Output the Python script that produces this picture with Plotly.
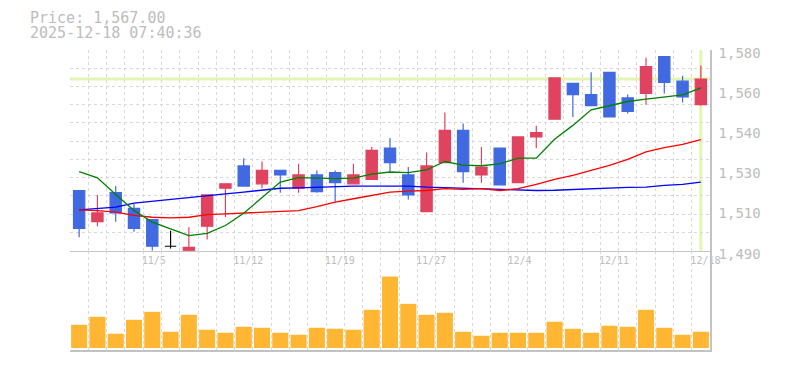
import plotly.graph_objects as go

# ---------------- data ----------------
dates = ["10/29", "10/30", "10/31", "11/4", "11/5", "11/6", "11/7", "11/10", "11/11", "11/12",
         "11/13", "11/14", "11/17", "11/18", "11/19", "11/20", "11/21", "11/25", "11/26", "11/27",
         "11/28", "12/1", "12/2", "12/3", "12/4", "12/5", "12/8", "12/9", "12/10", "12/11",
         "12/12", "12/15", "12/16", "12/17", "12/18"]
labeled_dates = ["11/5", "11/12", "11/19", "11/27", "12/4", "12/11", "12/18"]

opens = [1517, 1503, 1516, 1509, 1504, 1492, 1490, 1501, 1518, 1528,
         1520, 1526, 1518, 1524, 1525, 1520, 1522, 1536, 1524, 1507.5,
         1529.5, 1544, 1524, 1536, 1520.5, 1541, 1549, 1565, 1560, 1570,
         1558.5, 1560.5, 1577, 1566, 1555.5]
highs = [1517, 1515, 1519, 1511, 1504, 1499, 1500.5, 1515, 1520, 1531.5,
         1530, 1526, 1529, 1526, 1526, 1529, 1536.5, 1540.5, 1527.5, 1534,
         1552, 1547, 1536.5, 1536, 1541, 1546, 1567.5, 1565, 1570, 1570,
         1560, 1576.5, 1577, 1568.5, 1573]
lows = [1496, 1501, 1503, 1498.5, 1490, 1491, 1490, 1495, 1505, 1519,
        1518, 1516, 1516, 1516, 1512, 1520, 1522, 1525.5, 1513, 1507.5,
        1529.5, 1520.5, 1520.5, 1519.5, 1520.5, 1536, 1549, 1550, 1555, 1550,
        1551.5, 1555.5, 1560.5, 1556.5, 1555]
closes = [1500, 1507, 1507, 1500, 1492, 1492, 1491.5, 1515, 1520, 1519,
          1526, 1524, 1524, 1516.5, 1520.5, 1524, 1535, 1529.5, 1515, 1528,
          1544, 1525.5, 1527.5, 1519.5, 1541, 1543, 1567.5, 1560, 1555, 1550,
          1552.5, 1572.5, 1565.5, 1559, 1567]

ma_short = [1525.5, 1522.7, 1515.2, 1508, 1502.8, 1499.8, 1496.8, 1497.8, 1501.3, 1506.8,
            1514, 1520.8, 1522.8, 1522.5, 1522.3, 1522.5, 1524.3, 1525.3, 1525, 1526.2,
            1530, 1528.4, 1528.1, 1528.9, 1531.5, 1531.5, 1540, 1546.2, 1553.2, 1555,
            1556.9, 1558, 1559.1, 1559.9, 1563]
ma_mid = [1508.3, 1508, 1507.3, 1505.8, 1505, 1504.7, 1505, 1506.2, 1506.5, 1506.8,
          1507.3, 1507.6, 1508, 1509.8, 1511.8, 1513.3, 1514.8, 1516.3, 1516.7, 1517,
          1517.8, 1517.5, 1517.8, 1517, 1517.8, 1519.7, 1522, 1523.8, 1526, 1528.3,
          1531, 1534.3, 1536.2, 1537.7, 1539.8]
ma_long = [1508.3, 1508.8, 1509.5, 1511.3, 1512.2, 1513.1, 1514, 1514.8, 1515.5, 1516.3,
           1517.3, 1518, 1518.2, 1518.5, 1518.8, 1519, 1519, 1519, 1519, 1518.5,
           1518.2, 1518, 1517.8, 1517.3, 1517, 1517, 1517.1, 1517.5, 1517.6, 1518.2,
           1518.4, 1518.5, 1519.3, 1519.7, 1520.8]

volumes = [23300, 31300, 14300, 28300, 36300, 16300, 33300, 18300, 15300, 21300,
           20300, 15300, 13300, 20300, 19300, 18300, 38300, 71700, 44300, 33300,
           35300, 16300, 12300, 15300, 15300, 15300, 26300, 19300, 15300, 22300,
           21300, 38300, 20300, 13300, 16300]

price_tick_vals = [1580, 1562, 1544, 1526, 1508, 1490]
price_tick_text = ["1,580", "1,560", "1,540", "1,530", "1,510", "1,490"]
price_range = [1490, 1580]
price_grid_divisions = 11
volume_range = [-2000, 97600]

header_price = "Price: 1,567.00"
header_time = "2025-12-18 07:40:36"

# ---------------- styles ----------------
UP = "#e0435f"
DOWN = "#4169e1"
VOL = "#ffb632"
GRID = "#d9d9d9"
AXIS = "#c3c3c3"
TXT = "#bdbdbd"
HILITE = "#e3f5b3"
MONO = "DejaVu Sans Mono"

idx = list(range(len(dates)))
n = len(dates)
doji = [o == c for o, c in zip(opens, closes)]
normal = [not d for d in doji]


def pick(vals, keep):
    return [v if k else None for v, k in zip(vals, keep)]


boundaries = [i - 0.5 for i in idx] + [n - 0.5]
boundary_text = [(dates[i] if (i < n and dates[i] in labeled_dates) else "") for i in range(n + 1)]

fig = go.Figure()

# helper (empty) trace so the label axis is a real subplot
fig.add_trace(go.Scatter(x=[], y=[], xaxis="x", yaxis="y3", showlegend=False, hoverinfo="skip"))

# moving averages
for ma, col in [(ma_long, "#0000ff"), (ma_mid, "#ff0000"), (ma_short, "#008000")]:
    fig.add_trace(go.Scatter(x=idx, y=ma, mode="lines", line=dict(color=col, width=1.3),
                             hoverinfo="skip", showlegend=False, xaxis="x", yaxis="y"))

# candles
fig.add_trace(go.Candlestick(
    x=idx, open=pick(opens, normal), high=pick(highs, normal),
    low=pick(lows, normal), close=pick(closes, normal),
    increasing=dict(line=dict(color=UP, width=1.2), fillcolor=UP),
    decreasing=dict(line=dict(color=DOWN, width=1.2), fillcolor=DOWN),
    whiskerwidth=0, showlegend=False, hoverinfo="skip", xaxis="x", yaxis="y"))
fig.add_trace(go.Candlestick(
    x=idx, open=pick(opens, doji), high=pick(highs, doji),
    low=pick(lows, doji), close=pick(closes, doji),
    increasing=dict(line=dict(color="#000000", width=1.2), fillcolor="#000000"),
    decreasing=dict(line=dict(color="#000000", width=1.2), fillcolor="#000000"),
    whiskerwidth=0, showlegend=False, hoverinfo="skip", xaxis="x", yaxis="y"))

# volume
fig.add_trace(go.Bar(x=idx, y=volumes, marker=dict(color=VOL, line=dict(width=0)),
                     showlegend=False, hoverinfo="skip", xaxis="x2", yaxis="y2"))

# highlight of last price / last day
fig.add_shape(type="line", xref="x domain", x0=0, x1=1, yref="y", y0=closes[-1], y1=closes[-1],
              line=dict(color=HILITE, width=3), layer="below")
fig.add_shape(type="line", xref="x", x0=idx[-1], x1=idx[-1], yref="y domain", y0=0, y1=1,
              line=dict(color=HILITE, width=3), layer="below")

split = 0.331
# the page body has an 8px margin, so the figure is sized/offset to compensate
fig.update_layout(
    width=777, height=362,
    margin=dict(l=62, r=75, t=42, b=20, autoexpand=False),
    paper_bgcolor="white", plot_bgcolor="white",
    showlegend=False, hovermode=False,
    boxgap=0.12, bargap=0.12,
    xaxis=dict(domain=[0, 1], anchor="y", range=[-0.5, n - 0.5],
               tickmode="array", tickvals=boundaries, ticktext=boundary_text,
               ticks="", showgrid=True, gridcolor=GRID, griddash="dot", gridwidth=1,
               showline=True, linecolor=AXIS, linewidth=1.3, zeroline=False,
               ticklabelposition="outside right", ticklabelshift=-2,
               tickfont=dict(family=MONO, size=10, color=TXT),
               rangeslider=dict(visible=False), fixedrange=True, automargin=False),
    xaxis2=dict(domain=[0, 1], anchor="y2", matches="x", range=[-0.5, n - 0.5],
                tickmode="array", tickvals=boundaries, showticklabels=False,
                ticks="", showgrid=True, gridcolor=GRID, griddash="dot", gridwidth=1,
                showline=True, linecolor=AXIS, linewidth=1.5, zeroline=False,
                rangeslider=dict(visible=False), automargin=False),
    yaxis=dict(domain=[split, 1], anchor="x", range=price_range,
               tickmode="linear", tick0=price_range[0],
               dtick=(price_range[1] - price_range[0]) / price_grid_divisions,
               showticklabels=False, ticks="", showgrid=True, gridcolor=GRID,
               griddash="dot", gridwidth=1, zeroline=False, showline=False, automargin=False),
    yaxis3=dict(overlaying="y", anchor="x", side="right", range=price_range,
                tickmode="array", tickvals=price_tick_vals, ticktext=price_tick_text,
                showgrid=False, zeroline=False, showline=True, linecolor=AXIS, linewidth=1.5,
                ticks="", ticklabelshift=3, ticklabelstandoff=4, automargin=False,
                tickfont=dict(family=MONO, size=14, color=TXT)),
    yaxis2=dict(domain=[0, split], anchor="x2", side="right", range=volume_range,
                showticklabels=False, showgrid=False, zeroline=False, ticks="",
                showline=True, linecolor=AXIS, linewidth=1.5, automargin=False),
)

fig.add_annotation(text=header_price, xref="paper", yref="paper", x=-0.066, y=1.1067,
                   xanchor="left", yanchor="middle", showarrow=False,
                   font=dict(family=MONO, size=15, color=TXT))
fig.add_annotation(text=header_time, xref="paper", yref="paper", x=-0.066, y=1.0567,
                   xanchor="left", yanchor="middle", showarrow=False,
                   font=dict(family=MONO, size=15, color=TXT))

fig.write_html("out.html")
